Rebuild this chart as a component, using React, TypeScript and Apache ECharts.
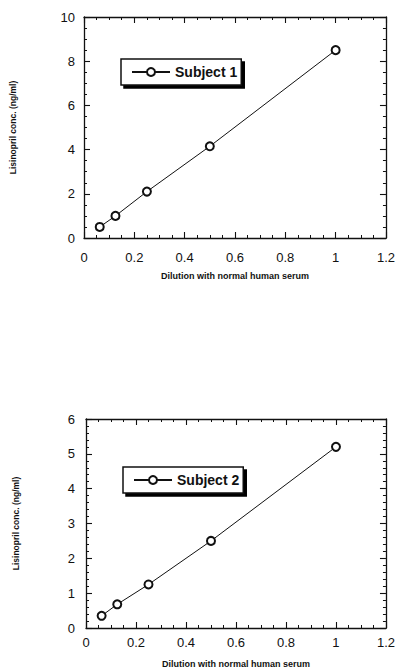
import React, { useEffect, useRef } from "react";
import * as echarts from "echarts";

const dilution = [0.0625, 0.125, 0.25, 0.5, 1];
const subject1 = [0.5, 1.0, 2.1, 4.15, 8.5];
const subject2 = [0.35, 0.68, 1.25, 2.5, 5.2];
const seriesNames = ["Subject 1", "Subject 2"];
const xAxisName = "Dilution with normal human serum";
const yAxisName = "Lisinopril conc. (ng/ml)";

const FONT = "Liberation Sans, Arial, Helvetica, sans-serif";
const INK = "#111";

function makeX(gridIndex: number, pos: "bottom" | "top", labelMargin: number, nameGap: number) {
  const main = pos === "bottom";
  return {
    type: "value",
    gridIndex,
    position: pos,
    min: 0,
    max: 1.2,
    interval: 0.2,
    name: main ? xAxisName : "",
    nameLocation: "middle",
    nameGap,
    nameTextStyle: { fontFamily: FONT, fontSize: 9, fontWeight: "bold", color: INK },
    axisLine: { show: true, onZero: false, lineStyle: { color: INK, width: 1.3 } },
    axisTick: { show: true, inside: true, length: 6, lineStyle: { color: INK, width: 1.1 } },
    minorTick: { show: true, splitNumber: 4, length: 3, lineStyle: { color: INK, width: 1 } },
    axisLabel: {
      show: main,
      margin: labelMargin,
      fontFamily: FONT,
      fontSize: 13,
      color: INK,
    },
    splitLine: { show: false },
    minorSplitLine: { show: false },
  };
}

function makeY(
  gridIndex: number,
  pos: "left" | "right",
  max: number,
  interval: number,
  minorSplit: number,
  labelMargin: number,
  nameGap: number
) {
  const main = pos === "left";
  return {
    type: "value",
    gridIndex,
    position: pos,
    min: 0,
    max,
    interval,
    name: main ? yAxisName : "",
    nameLocation: "middle",
    nameGap,
    nameRotate: 90,
    nameTextStyle: { fontFamily: FONT, fontSize: 8.5, fontWeight: "bold", color: INK },
    axisLine: { show: true, onZero: false, lineStyle: { color: INK, width: 1.3 } },
    axisTick: { show: true, inside: true, length: 6, lineStyle: { color: INK, width: 1.1 } },
    minorTick: { show: true, splitNumber: minorSplit, length: 3, lineStyle: { color: INK, width: 1 } },
    axisLabel: {
      show: main,
      margin: labelMargin,
      fontFamily: FONT,
      fontSize: 13,
      color: INK,
    },
    splitLine: { show: false },
    minorSplitLine: { show: false },
  };
}

function makeSeries(name: string, values: number[], axisIndex: number) {
  return {
    type: "line",
    name,
    xAxisIndex: axisIndex,
    yAxisIndex: axisIndex,
    data: dilution.map((d, i) => [d, values[i]]),
    symbol: "emptyCircle",
    symbolSize: 8,
    showSymbol: true,
    lineStyle: { color: INK, width: 1 },
    itemStyle: { color: INK, borderColor: INK, borderWidth: 1.5 },
  };
}

function makeLegend(name: string, left: number, top: number) {
  return {
    data: [name],
    left,
    top,
    orient: "horizontal",
    padding: [6, 4, 6, 10],
    itemWidth: 38,
    itemHeight: 10,
    backgroundColor: "#fff",
    borderColor: INK,
    borderWidth: 1.5,
    borderRadius: 0,
    shadowColor: "#000",
    shadowBlur: 0,
    shadowOffsetX: 3,
    shadowOffsetY: 3,
    selectedMode: false,
    textStyle: { fontFamily: FONT, fontSize: 14, fontWeight: "bold", color: INK },
  };
}

export default function App() {
  const ref = useRef<HTMLDivElement>(null);
  useEffect(() => {
    if (!ref.current) return;
    const chart = echarts.init(ref.current, undefined, { renderer: "svg" });
    chart.setOption({
      animation: false,
      backgroundColor: "#fff",
      grid: [
        { left: 81, top: 17, width: 307, height: 221 },
        { left: 86, top: 419, width: 301, height: 215 },
      ],
      xAxis: [
        makeX(0, "bottom", 13, 33),
        makeX(0, "top", 13, 33),
        makeX(1, "bottom", 8, 31),
        makeX(1, "top", 8, 31),
      ],
      yAxis: [
        makeY(0, "left", 10, 2, 4, 9, 67),
        makeY(0, "right", 10, 2, 4, 9, 67),
        makeY(1, "left", 6, 1, 5, 11, 66),
        makeY(1, "right", 6, 1, 5, 11, 66),
      ],
      legend: [makeLegend(seriesNames[0], 121, 59), makeLegend(seriesNames[1], 123, 467)],
      series: [makeSeries(seriesNames[0], subject1, 0), makeSeries(seriesNames[1], subject2, 2)],
    });
    return () => chart.dispose();
  }, []);
  return (
    <div
      ref={ref}
      style={{ position: "fixed", left: 0, top: 0, width: 398, height: 669, background: "#fff" }}
    />
  );
}
